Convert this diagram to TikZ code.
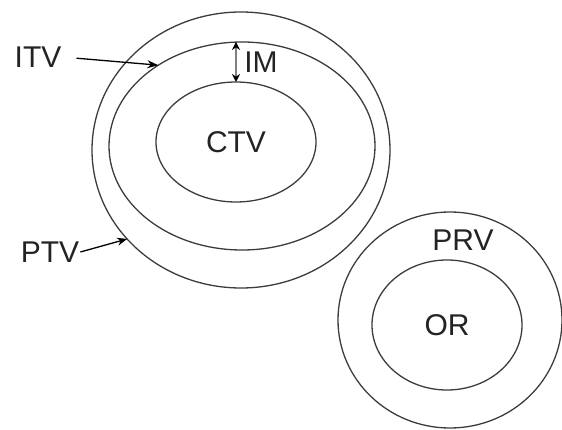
\documentclass[tikz,border=0pt]{standalone}
\usepackage{fontspec}
\setmainfont{Liberation Sans}
\usetikzlibrary{shapes.geometric,arrows.meta}
\definecolor{linegray}{RGB}{60,60,60}
\definecolor{textgray}{RGB}{35,35,35}
\tikzset{
  contour/.style={ellipse, draw=linegray, line width=1.3pt, inner sep=0pt, outer sep=0pt,
    text=textgray, font=\fontsize{30}{36}\selectfont},
  lbl/.style={text=textgray, font=\fontsize{30}{36}\selectfont, inner sep=1pt},
  pointer/.style={draw=black, line width=1.3pt, -{Stealth[length=11pt,width=8pt]}},
}
\begin{document}
\begin{tikzpicture}[x=1pt,y=-1pt]
  \useasboundingbox (0,0) rectangle (562,430);
  % target volumes, outer to inner
  \node[contour, minimum width=298pt, minimum height=276pt] (ptv) at (241,150) {};
  \node[contour, minimum width=266pt, minimum height=208pt] (itv) at (242,146) {};
  \node[contour, minimum width=160pt, minimum height=120pt] (ctv) at (236,142) {CTV};
  % organ at risk and its planning margin
  \node[contour, minimum width=224pt, minimum height=216pt] (prv) at (450,320) {};
  \node[contour, minimum width=150pt, minimum height=130pt] (or) at (447,325) {OR};
  % labels
  \node[lbl] (itvlbl) at (38,57) {ITV};
  \node[lbl] (ptvlbl) at (50,252) {PTV};
  \node[lbl] (imlbl) at (261,62) {IM};
  \node[lbl] (prvlbl) at (463,240) {PRV};
  % pointers
  \draw[pointer, shorten <=14pt] (itvlbl.east) -- (itv.136);
  \draw[pointer, -{Stealth[length=10pt,width=8pt]}] (ptvlbl.east) -- (ptv.218);
  % internal margin
  \coordinate (imtop) at (ctv.north |- itv.north);
  \draw[draw=gray, line width=1.6pt, {Stealth[length=8pt,width=8pt,color=black]}-{Stealth[length=8pt,width=8pt,color=black]}] (imtop) -- (ctv.north);
\end{tikzpicture}
\end{document}
